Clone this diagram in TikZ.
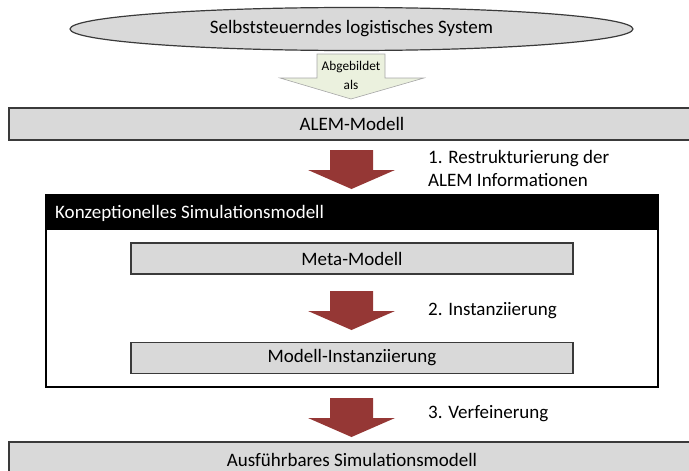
\documentclass[tikz,border=0pt]{standalone}
\usepackage{fontspec}
\setmainfont{Carlito}
\usetikzlibrary{shapes.geometric,calc}
\definecolor{barfill}{HTML}{D9D9D9}
\definecolor{barline}{HTML}{3A3A3A}
\definecolor{arrowred}{HTML}{953735}
\definecolor{greenfill}{HTML}{EBF1DE}
\tikzset{
  bar/.style={draw=barline, line width=1.2pt, fill=barfill, inner sep=0pt,
    font=\fontsize{19}{22}\selectfont},
  lbl/.style={anchor=west, inner sep=0pt, align=left,
    font=\fontsize{19}{23}\selectfont},
  pics/redarrow/.style={code={
    \fill[arrowred] (-21.5,0) -- (21.5,0) -- (21.5,20) -- (43.5,20) -- (0,39)
      -- (-43.5,20) -- (-21.5,20) -- cycle;}}
}
\begin{document}
\begin{tikzpicture}[x=1pt,y=-1pt]
\useasboundingbox (0,0) rectangle (689,471);
\clip (0,0) rectangle (689,471);
% top ellipse
\node[ellipse, draw=barline, line width=1.2pt, fill=barfill, inner sep=0pt,
  minimum width=563pt, minimum height=43pt,
  font=\fontsize{19}{22}\selectfont] (sys) at (351.5,29) {Selbststeuerndes logistisches System};
% green block arrow
\coordinate (g) at (351,54);
\filldraw[fill=greenfill, draw=gray!70, line width=0.6pt]
  ($(g)+(-34,0)$) -- ($(g)+(34,0)$) -- ($(g)+(34,24)$) -- ($(g)+(73,24)$)
  -- ($(g)+(0,45)$) -- ($(g)+(-71,24)$) -- ($(g)+(-34,24)$) -- cycle;
\node[align=center, font=\fontsize{13.3}{19}\selectfont, inner sep=0pt] (abg) at (351,75) {Abgebildet\\als};
% ALEM bar
\node[bar, minimum width=686pt, minimum height=32pt] (alem) at (352,124) {ALEM-Modell};
% arrow 1
\pic at (351.5,150) {redarrow};
\node[lbl] (l1) at (428,168) {1. Restrukturierung der\\ALEM Informationen};
% conceptual box
\draw[line width=2pt, draw=black] (46,195) rectangle (658,387);
\fill[black] (46,195) rectangle (658,230);
\node[anchor=west, inner sep=0pt, text=white, font=\fontsize{19}{22}\selectfont] (konz) at (55,213) {Konzeptionelles Simulationsmodell};
\node[bar, minimum width=442pt, minimum height=31pt] (meta) at (352,258.5) {Meta-Modell};
\pic at (351.5,291) {redarrow};
\node[lbl] (l2) at (428,311) {2. Instanziierung};
\node[bar, minimum width=442pt, minimum height=31pt] (inst) at (352,358) {Modell-Instanziierung};
% arrow 3
\pic at (351.5,398) {redarrow};
\node[lbl] (l3) at (428,414) {3. Verfeinerung};
\node[bar, minimum width=686pt, minimum height=40pt] (ausf) at (352,462) {};
\node[inner sep=0pt, font=\fontsize{19}{22}\selectfont] (ausft) at (352,460) {Ausführbares Simulationsmodell};
\end{tikzpicture}
\end{document}
